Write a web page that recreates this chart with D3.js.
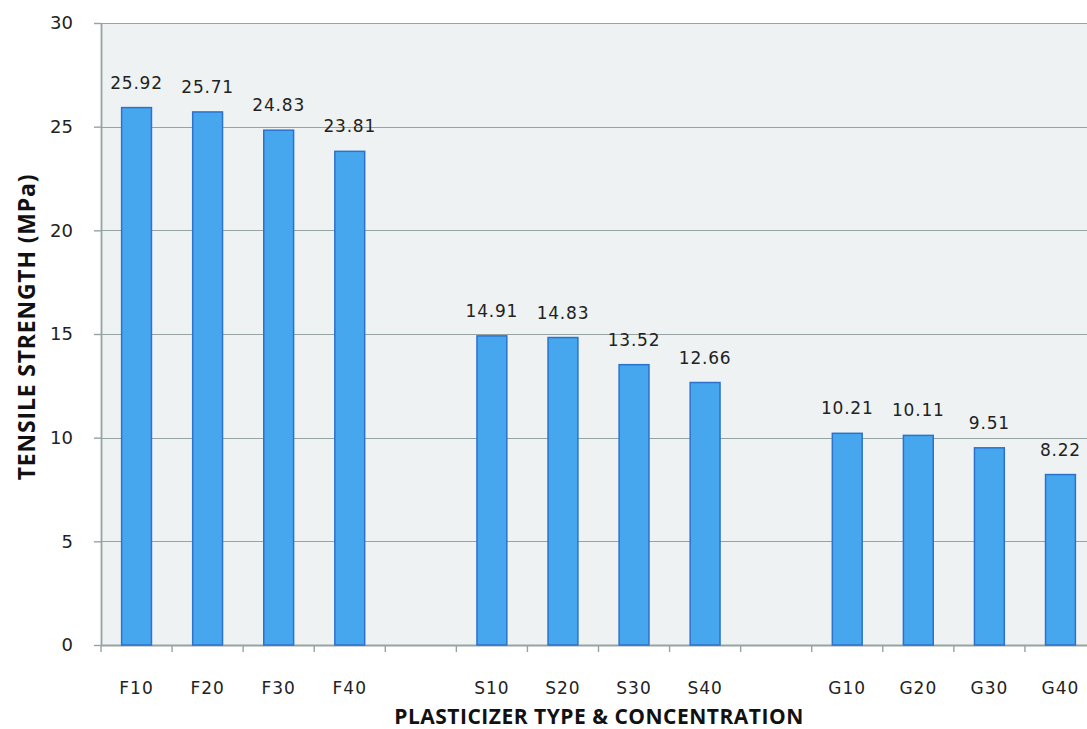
<!DOCTYPE html>
<html>
<head>
<meta charset="utf-8">
<script src="https://cdn.jsdelivr.net/npm/d3@7"></script>
<style>
  html, body { margin: 0; padding: 0; background: #ffffff; }
  svg { display: block; }
</style>
</head>
<body>
<svg id="chart" width="1087" height="729"></svg>
<script>
// Tensile strength by plasticizer type and concentration
const categories = ["F10", "F20", "F30", "F40", "gap1", "S10", "S20", "S30", "S40", "gap2", "G10", "G20", "G30", "G40"];
const tickLabels = ["F10", "F20", "F30", "F40", "", "S10", "S20", "S30", "S40", "", "G10", "G20", "G30", "G40"];
const strengths = [25.92, 25.71, 24.83, 23.81, null, 14.91, 14.83, 13.52, 12.66, null, 10.21, 10.11, 9.51, 8.22];
const yTicks = [0, 5, 10, 15, 20, 25, 30];

const svg = d3.select("#chart");
const plotL = 101, plotT = 23, plotB = 645, plotR = 1096;

const x = d3.scaleBand().domain(categories).range([plotL, plotR]).paddingInner(0.58).paddingOuter(0.29);
const xb = d3.scaleBand().domain(categories).range([plotL, plotR]);
const y = d3.scaleLinear().domain([0, 30]).range([plotB, plotT]);

// plot background
svg.append("rect")
  .attr("x", plotL).attr("y", plotT)
  .attr("width", plotR - plotL).attr("height", plotB - plotT)
  .attr("fill", "#eef2f2");

// horizontal gridlines
svg.append("g").selectAll("line").data(yTicks.filter(d => d > 0)).join("line")
  .attr("x1", plotL).attr("x2", plotR)
  .attr("y1", d => Math.round(y(d)) + 0.5).attr("y2", d => Math.round(y(d)) + 0.5)
  .attr("stroke", "#97a3a3").attr("stroke-width", 1.2);

// y axis
const yAxis = svg.append("g")
  .attr("transform", `translate(${plotL},0)`)
  .call(d3.axisLeft(y).tickValues(yTicks).tickSize(7).tickPadding(21).tickSizeOuter(0));
yAxis.select(".domain").attr("stroke", "#97a3a3").attr("stroke-width", 1.8);
yAxis.selectAll(".tick line").attr("stroke", "#97a3a3").attr("stroke-width", 1.4);
yAxis.selectAll(".tick text")
  .attr("font-family", "DejaVu Sans, sans-serif").attr("font-size", 18).attr("fill", "#222");

// x axis with ticks on band boundaries
const xAxisG = svg.append("g").attr("transform", `translate(0,${plotB})`);
xAxisG.append("line").attr("x1", plotL).attr("x2", plotR).attr("y1", 0.5).attr("y2", 0.5)
  .attr("stroke", "#97a3a3").attr("stroke-width", 1.8);
const bounds = categories.map(c => xb(c)).concat([plotR]);
xAxisG.selectAll("line.tk").data(bounds).join("line").attr("class", "tk")
  .attr("x1", d => d).attr("x2", d => d).attr("y1", 0).attr("y2", 7)
  .attr("stroke", "#97a3a3").attr("stroke-width", 1.4);
xAxisG.selectAll("text").data(categories).join("text")
  .attr("x", d => xb(d) + xb.bandwidth() / 2)
  .attr("y", 49)
  .attr("text-anchor", "middle")
  .attr("font-family", "DejaVu Sans, sans-serif").attr("font-size", 17)
  .attr("letter-spacing", 1)
  .attr("fill", "#222")
  .text((d, i) => tickLabels[i]);

// bars
const data = categories.map((c, i) => ({ c, v: strengths[i] })).filter(d => d.v !== null);
svg.append("g").selectAll("rect").data(data).join("rect")
  .attr("x", d => x(d.c))
  .attr("y", d => y(d.v))
  .attr("width", x.bandwidth())
  .attr("height", d => plotB - y(d.v))
  .attr("fill", "#46a7ef")
  .attr("stroke", "#2a72cc")
  .attr("stroke-width", 1.5);

// value labels
svg.append("g").selectAll("text").data(data).join("text")
  .attr("x", d => x(d.c) + x.bandwidth() / 2)
  .attr("y", d => y(d.v) - 19)
  .attr("text-anchor", "middle")
  .attr("font-family", "DejaVu Sans, sans-serif").attr("font-size", 17)
  .attr("letter-spacing", 0.8)
  .attr("fill", "#222")
  .text(d => d.v.toFixed(2));

// axis titles
svg.append("text")
  .attr("transform", `translate(35,${(plotT + plotB) / 2 - 7}) rotate(-90)`)
  .attr("text-anchor", "middle")
  .attr("font-family", "Open Sans, sans-serif").attr("font-weight", "bold").attr("font-size", 23)
  .attr("letter-spacing", 0.8)
  .attr("fill", "#111")
  .text("TENSILE STRENGTH (MPa)");

svg.append("text")
  .attr("x", 599).attr("y", 724)
  .attr("text-anchor", "middle")
  .attr("font-family", "Open Sans, sans-serif").attr("font-weight", "bold").attr("font-size", 21)
  .attr("letter-spacing", 0.5)
  .attr("fill", "#111")
  .text("PLASTICIZER TYPE & CONCENTRATION");
</script>
</body>
</html>
